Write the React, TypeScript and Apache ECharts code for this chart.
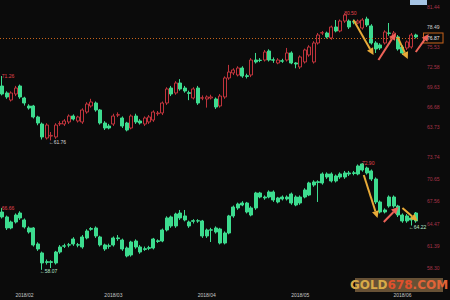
import { useEffect, useRef } from "react";
import * as echarts from "echarts";

const dates = [
  "2018/01/25","2018/01/26","2018/01/29","2018/01/30","2018/01/31",
  "2018/02/01","2018/02/02","2018/02/05","2018/02/06","2018/02/07","2018/02/08","2018/02/09",
  "2018/02/12","2018/02/13","2018/02/14","2018/02/15","2018/02/16","2018/02/19","2018/02/20",
  "2018/02/21","2018/02/22","2018/02/23","2018/02/26","2018/02/27","2018/02/28",
  "2018/03/01","2018/03/02","2018/03/05","2018/03/06","2018/03/07","2018/03/08","2018/03/09",
  "2018/03/12","2018/03/13","2018/03/14","2018/03/15","2018/03/16","2018/03/19","2018/03/20",
  "2018/03/21","2018/03/22","2018/03/23","2018/03/26","2018/03/27","2018/03/28","2018/03/29",
  "2018/04/02","2018/04/03","2018/04/04","2018/04/05","2018/04/06","2018/04/09","2018/04/10",
  "2018/04/11","2018/04/12","2018/04/13","2018/04/16","2018/04/17","2018/04/18","2018/04/19",
  "2018/04/20","2018/04/23","2018/04/24","2018/04/25","2018/04/26","2018/04/27","2018/04/30",
  "2018/05/01","2018/05/02","2018/05/03","2018/05/04","2018/05/07","2018/05/08","2018/05/09",
  "2018/05/10","2018/05/11","2018/05/14","2018/05/15","2018/05/16","2018/05/17","2018/05/18",
  "2018/05/21","2018/05/22","2018/05/23","2018/05/24","2018/05/25","2018/05/28","2018/05/29",
  "2018/05/30","2018/05/31",
  "2018/06/01","2018/06/04","2018/06/05","2018/06/06"
];

// [open, close, low, high]
const brent: number[][] = [
  [69.79,68.61,68.40,71.26],[68.76,68.17,67.90,69.00],[67.72,68.76,67.50,69.00],[68.61,69.49,68.30,69.80],
  [69.79,68.17,67.90,70.00],[68.02,67.28,66.90,68.20],[66.84,66.54,66.30,67.10],[66.84,65.22,65.00,67.00],
  [65.22,64.33,64.00,65.40],[64.18,62.27,61.90,64.40],[62.12,64.03,61.90,64.30],[62.40,62.50,61.76,63.00],
  [62.27,64.03,62.00,64.30],[64.20,64.25,63.90,64.60],[64.18,64.63,63.90,64.90],[64.48,65.36,64.20,65.60],
  [65.36,64.92,64.70,65.60],[64.63,65.22,64.40,65.40],[64.48,66.25,64.20,66.50],[65.95,67.13,65.70,67.40],
  [66.84,67.43,66.60,67.90],[67.28,66.25,66.00,67.50],[66.25,64.33,64.10,66.40],[64.33,63.59,63.30,64.60],
  [63.89,63.59,63.40,64.20],[64.18,65.36,63.90,65.70],[65.50,65.55,65.20,65.90],[65.07,63.89,63.60,65.30],
  [64.33,63.30,63.10,64.50],[63.59,65.36,63.40,65.60],[65.36,64.48,64.20,65.70],[64.63,64.33,64.10,64.90],
  [64.18,65.07,63.90,65.30],[64.48,65.22,64.20,65.50],[64.77,65.95,64.50,66.20],[65.70,65.80,65.40,66.10],
  [65.81,67.28,65.50,67.50],[67.28,69.35,67.00,69.60],[69.49,68.61,68.30,69.80],[68.76,70.23,68.50,70.50],
  [70.23,69.35,69.10,70.80],[69.49,69.05,68.80,69.80],[68.80,68.70,67.70,69.10],[68.02,69.35,67.80,69.60],
  [69.49,67.28,67.00,69.80],[68.00,68.05,67.70,68.40],[67.87,68.17,66.60,68.40],[68.02,68.17,67.80,68.50],
  [67.87,66.69,66.40,68.10],[66.84,68.31,66.60,68.60],[68.17,70.97,67.90,71.20],[70.97,71.85,70.70,72.90],
  [71.71,72.15,71.40,72.40],[71.41,72.44,71.20,72.70],[72.44,71.26,71.00,72.70],[71.30,71.20,70.90,71.60],
  [71.41,73.62,71.10,73.90],[73.62,73.33,73.10,74.66],[73.60,73.55,73.30,73.90],[73.62,74.80,73.40,75.10],
  [74.95,73.62,73.40,75.20],[73.65,73.60,73.20,74.00],[73.18,73.62,73.00,73.90],[73.50,73.45,73.20,73.80],
  [73.62,74.66,73.40,75.40],[74.66,73.18,73.00,74.90],[73.18,73.03,72.40,73.30],[72.59,74.07,72.30,74.30],
  [73.33,75.10,73.10,75.30],[74.36,75.54,74.10,75.80],[73.33,76.13,73.10,76.40],[76.13,77.31,75.90,77.60],
  [77.60,77.65,77.30,77.90],[77.60,77.02,76.80,77.80],[76.87,78.49,76.60,78.70],[78.49,77.90,77.70,79.52],
  [77.90,79.37,77.70,79.60],[79.37,80.26,79.10,80.50],[79.37,78.49,78.20,79.60],[79.30,79.20,78.90,79.60],
  [79.08,79.37,78.90,79.60],[78.34,79.52,78.10,79.80],[79.67,78.79,78.50,80.00],[78.64,76.13,75.90,78.90],
  [76.13,75.25,74.66,76.40],[75.84,75.39,75.10,76.10],[76.13,77.75,75.90,78.00],[77.60,77.55,77.20,79.08],
  [77.02,77.60,76.80,77.90],[77.02,75.25,75.00,77.30],[75.54,74.66,74.40,75.80],[75.39,76.28,75.10,76.50],
  [75.54,77.31,75.30,77.60],[77.31,77.02,76.80,77.50]
];

const wti: number[][] = [
  [66.10,65.41,65.20,66.66],[65.41,63.88,63.60,65.60],[64.71,63.88,63.70,64.90],[65.68,64.71,64.50,65.90],
  [65.96,65.27,65.00,66.20],[64.99,64.02,63.80,65.20],[63.88,63.32,63.10,64.10],[63.88,61.52,61.30,64.00],
  [61.66,60.96,60.70,61.90],[60.41,59.02,58.07,60.60],[59.20,59.10,58.80,59.50],[59.20,59.10,58.32,59.40],
  [60.54,59.02,58.80,60.70],[61.24,60.54,60.30,61.50],[61.40,61.35,61.10,61.70],[61.55,61.50,61.20,61.80],
  [62.35,61.66,61.40,62.60],[61.55,61.50,61.20,61.80],[62.63,61.24,61.00,62.90],[63.46,62.49,62.30,63.70],
  [63.80,63.70,63.50,64.00],[63.88,62.77,62.50,64.10],[62.63,61.52,61.30,62.80],[61.52,60.96,60.70,61.70],
  [61.40,61.35,61.00,61.70],[62.49,61.52,61.30,62.70],[62.50,62.40,62.10,62.90],[62.21,60.96,60.70,62.40],
  [61.10,59.99,59.80,61.30],[61.93,60.13,59.90,62.10],[62.07,61.24,61.00,62.30],[61.24,60.54,60.30,61.50],
  [61.00,60.90,60.70,61.30],[61.15,61.05,60.80,61.40],[62.35,61.10,60.90,62.50],[62.10,62.00,61.80,62.30],
  [63.60,62.07,61.90,63.80],[65.27,63.60,63.40,65.50],[65.41,64.16,63.90,65.60],[65.82,64.16,63.90,66.00],
  [65.96,65.27,65.00,66.38],[65.55,64.99,64.80,66.38],[64.71,64.16,63.90,64.90],[64.90,64.80,64.50,65.10],
  [64.88,64.85,64.60,65.10],[64.85,62.77,62.50,65.00],[63.60,62.77,62.50,63.80],[63.62,63.58,61.93,63.90],
  [63.88,63.32,63.10,64.10],[63.74,61.79,61.60,63.90],[63.18,61.79,61.60,63.40],[65.55,63.18,63.00,65.70],
  [66.79,65.55,65.30,67.00],[67.21,66.66,66.40,67.40],[67.35,67.07,66.90,67.60],[67.35,66.10,65.90,67.50],
  [66.66,65.68,65.50,66.90],[68.74,66.66,66.40,68.90],[68.74,68.18,68.00,68.90],[68.18,68.05,67.80,68.40],
  [68.88,68.18,68.00,69.10],[68.88,67.77,67.50,69.10],[68.05,67.49,67.30,68.20],[68.18,67.91,67.70,68.40],
  [68.18,67.91,67.70,68.40],[68.60,67.35,67.10,68.80],[68.18,67.07,66.90,68.40],[68.18,67.35,67.10,68.40],
  [69.16,68.18,68.00,69.40],[70.13,68.46,68.30,70.30],[70.27,69.85,69.60,70.50],[70.30,70.20,67.49,70.50],
  [71.38,70.13,69.90,71.60],[71.38,70.96,70.70,71.60],[71.38,70.41,70.20,71.60],[71.10,70.41,70.20,71.30],
  [71.38,70.96,70.70,71.60],[71.52,70.96,70.70,71.80],[71.52,71.38,71.10,71.80],[71.55,71.45,71.20,71.80],
  [72.49,71.38,71.20,72.70],[72.77,71.93,71.70,72.90],[72.21,71.52,71.30,72.40],[71.80,70.68,70.40,72.00],
  [70.68,67.49,67.20,70.90],[67.49,66.10,65.90,67.70],[66.38,66.10,65.90,66.60],[68.18,66.93,66.70,68.40],
  [68.18,66.93,66.70,68.40],[66.93,65.68,65.40,67.10],[65.68,64.85,64.60,65.90],[65.55,64.85,64.60,65.80],
  [65.27,64.99,64.22,65.50],[65.96,64.85,64.60,66.10]
];

const brentTicks = [63.73, 66.68, 69.63, 72.58, 75.53, 78.49, 81.44];
const wtiTicks = [58.30, 61.39, 64.47, 67.56, 70.65, 73.74];
const brentRange = [60.35, 82.47];
const wtiRange = [55.96, 74.71];
const brentLast = 76.87;

// extreme labels: [index, value, text, kind]
const brentMarks: [number, number, string, string][] = [
  [0, 71.26, "71.26", "high"], [77, 80.50, "80.50", "high"], [11, 61.76, "←61.76", "low"]
];
const wtiMarks: [number, number, string, string][] = [
  [0, 66.66, "66.66", "high"], [81, 72.90, "72.90", "high"], [9, 58.07, "←58.07", "low"], [92, 64.22, "←64.22", "low"]
];

// hand-drawn arrows: [fromIdx, fromVal, toIdx, toVal, kind]
const brentArrows: [number, number, number, number, string][] = [
  [79.0, 79.52, 83.5, 74.36, "down"],
  [84.6, 73.62, 88.5, 77.60, "up"],
  [88.9, 77.02, 91.2, 73.77, "down"],
  [93.0, 74.80, 95.9, 77.46, "up"]
];
const wtiArrows: [number, number, number, number, string][] = [
  [81.3, 71.24, 84.4, 65.27, "down"],
  [85.8, 64.71, 89.1, 66.79, "up"],
  [90.0, 66.66, 93.4, 64.85, "down"]
];

const BG = "#0b0b0b";
const RED = "#c0343c";
const GREEN = "#3ddc8f";
const AXIS_RED = "#a8344a";
const ARROW_Y = "#e8aa38";
const ARROW_R = "#ee6358";
const FONT = "Liberation Sans";

function markPoints(marks: [number, number, string, string][], lowColor: string) {
  return {
    symbol: "circle",
    symbolSize: 1,
    itemStyle: { color: "rgba(0,0,0,0)" },
    data: marks.map(([i, v, t, k]) => ({
      coord: [i, v],
      value: v,
      label: {
        show: true,
        position: k === "high" ? [0, 0.5] : [-2, 2],
        align: "left",
        verticalAlign: "middle",
        formatter: t,
        color: k === "high" ? "#e0444c" : lowColor,
        fontSize: 5,
        fontFamily: FONT
      }
    }))
  };
}

export default function App() {
  const ref = useRef<HTMLDivElement>(null);
  useEffect(() => {
    if (!ref.current) return;
    const chart = echarts.init(ref.current, null, { renderer: "svg" });
    const W = 418;
    const yAxisCommon = {
      type: "value",
      position: "right",
      scale: true,
      splitLine: { show: false },
      axisLine: { show: false },
      axisTick: { show: false }
    };
    chart.setOption({
      animation: false,
      backgroundColor: BG,
      grid: [
        { left: 0, top: 0, width: W, height: 150 },
        { left: 0, top: 150, width: W, height: 135 }
      ],
      xAxis: [
        { type: "category", gridIndex: 0, data: dates, boundaryGap: true, axisLine: { show: false }, axisTick: { show: false }, axisLabel: { show: false } },
        {
          type: "category", gridIndex: 1, data: dates, boundaryGap: true,
          axisLine: { show: false }, axisTick: { show: false },
          axisLabel: {
            color: "#c8c8c8", fontSize: 5, margin: 7, fontFamily: FONT,
            interval: (i: number) => i > 0 && dates[i].slice(0, 7) !== dates[i - 1].slice(0, 7),
            formatter: (v: string) => v.slice(0, 7)
          }
        },
        { type: "value", gridIndex: 0, min: -0.5, max: dates.length - 0.5, show: false },
        { type: "value", gridIndex: 1, min: -0.5, max: dates.length - 0.5, show: false }
      ],
      yAxis: [
        {
          ...yAxisCommon, gridIndex: 0, min: brentRange[0], max: brentRange[1],
          axisLabel: {
            customValues: brentTicks, fontSize: 5, margin: 9, fontFamily: FONT,
            color: (v: any) => (Math.abs(Number(v) - 78.49) < 0.01 ? "#d0d0d0" : AXIS_RED),
            formatter: (v: number) => v.toFixed(2)
          }
        },
        {
          ...yAxisCommon, gridIndex: 1, min: wtiRange[0], max: wtiRange[1],
          axisLabel: { customValues: wtiTicks, color: AXIS_RED, fontSize: 5, margin: 9, fontFamily: FONT, formatter: (v: number) => v.toFixed(2) }
        }
      ],
      series: [
        {
          type: "candlestick", xAxisIndex: 0, yAxisIndex: 0, data: brent, barWidth: 3.5,
          itemStyle: { color: BG, color0: GREEN, borderColor: RED, borderColor0: GREEN, borderWidth: 1 },
          markPoint: markPoints(brentMarks, "#d8d8d8"),
          markLine: {
            symbol: "none", silent: true,
            lineStyle: { color: "#c8641c", type: [1, 2], width: 1 },
            label: {
              show: true, position: "end", distance: 6, formatter: brentLast.toFixed(2),
              color: "#e8e8e8", fontSize: 5, fontFamily: FONT,
              borderColor: "#c8641c", borderWidth: 1, padding: [2, 3], backgroundColor: BG
            },
            data: [{ yAxis: brentLast }]
          }
        },
        {
          type: "candlestick", xAxisIndex: 1, yAxisIndex: 1, data: wti, barWidth: 3.5,
          itemStyle: { color: GREEN, color0: GREEN, borderColor: GREEN, borderColor0: GREEN, borderWidth: 1 },
          markPoint: markPoints(wtiMarks, "#b8e8cc")
        }
      ]
    });

    const arrowGraphics: any[] = [];
    const addArrows = (arrows: [number, number, number, number, string][], xIdx: number, yIdx: number) => {
      arrows.forEach(([i0, v0, i1, v1, k]) => {
        const x0 = chart.convertToPixel({ xAxisIndex: xIdx }, i0) as number;
        const y0 = chart.convertToPixel({ yAxisIndex: yIdx }, v0) as number;
        const x1 = chart.convertToPixel({ xAxisIndex: xIdx }, i1) as number;
        const y1 = chart.convertToPixel({ yAxisIndex: yIdx }, v1) as number;
        const dx = x1 - x0, dy = y1 - y0;
        const len = Math.sqrt(dx * dx + dy * dy) || 1;
        const ux = dx / len, uy = dy / len;
        const head = 7, half = 3.5;
        const bx = x1 - ux * head, by = y1 - uy * head;
        const color = k === "down" ? ARROW_Y : ARROW_R;
        arrowGraphics.push({
          type: "line", silent: true, z: 100,
          shape: { x1: x0, y1: y0, x2: bx, y2: by },
          style: { stroke: color, lineWidth: 2 }
        });
        arrowGraphics.push({
          type: "polygon", silent: true, z: 100,
          shape: { points: [[x1, y1], [bx - uy * half, by + ux * half], [bx + uy * half, by - ux * half]] },
          style: { fill: color }
        });
      });
    };
    addArrows(brentArrows, 2, 0);
    addArrows(wtiArrows, 3, 1);

    chart.setOption({
      graphic: [
        ...arrowGraphics,
        { type: "rect", silent: true, z: 100, shape: { x: 410, y: 0, width: 17, height: 5 }, style: { fill: "#a6c4e4" } },
        {
          type: "group", silent: true, z: 100, children: [
            { type: "rect", shape: { x: 355, y: 278, width: 88, height: 14 }, style: { fill: "rgba(180,140,90,0.55)" } },
            {
              type: "text", x: 399, y: 285,
              style: {
                text: "{a|GOLD}{b|678}{c|.COM}", align: "center", verticalAlign: "middle",
                rich: {
                  a: { fill: "#d8aa48", fontSize: 12, fontWeight: "bold", fontFamily: "DejaVu Sans" },
                  b: { fill: "#e0502c", fontSize: 12, fontWeight: "bold", fontFamily: "DejaVu Sans" },
                  c: { fill: "#e06438", fontSize: 12, fontWeight: "bold", fontFamily: "DejaVu Sans" }
                }
              }
            }
          ]
        }
      ]
    });

    return () => chart.dispose();
  }, []);
  return (
    <div
      ref={ref}
      style={{ position: "fixed", left: 0, top: 0, width: 450, height: 300, background: BG }}
    />
  );
}
